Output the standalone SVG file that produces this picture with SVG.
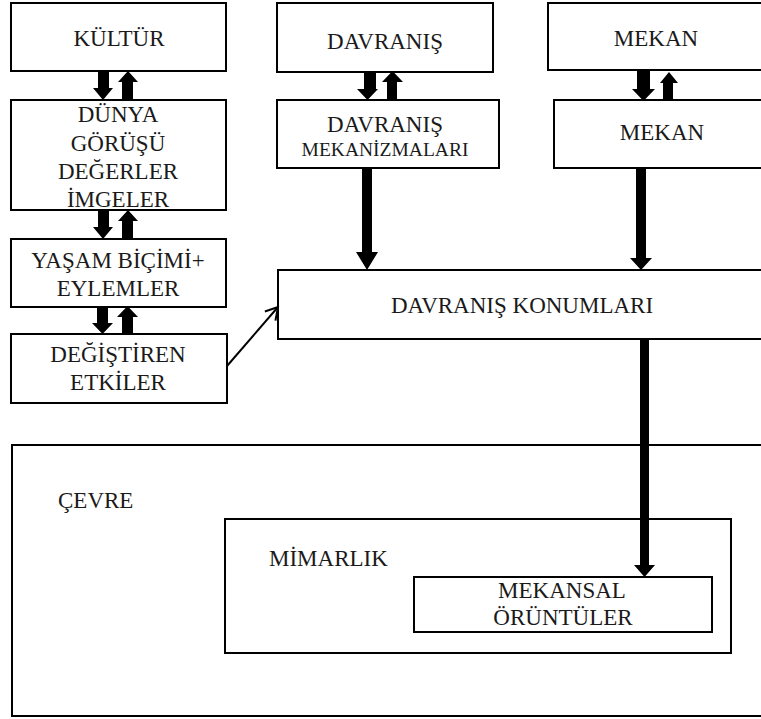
<svg xmlns="http://www.w3.org/2000/svg" width="761" height="719" viewBox="0 0 761 719">
<style>
.box{fill:#fff;stroke:#000;stroke-width:2}
text{font-family:"Liberation Serif","Times New Roman",serif;font-size:23px;fill:#1a1a1a;text-anchor:middle}
text.s{font-size:19.5px}
text.l{text-anchor:start}
.ar{fill:#000;stroke:none}
</style>
<defs>
<marker id="open" markerWidth="16" markerHeight="16" refX="14" refY="8" orient="auto" markerUnits="userSpaceOnUse">
<path d="M2,1 L14,8 L2,15" fill="none" stroke="#000" stroke-width="2"/>
</marker>
</defs>
<rect width="761" height="719" fill="#fff"/>

<g id="cevre">
<rect class="box" x="12" y="445" width="760" height="271"/>
<text class="l" x="58" y="508">ÇEVRE</text>
</g>
<g id="mimarlik">
<rect class="box" x="225" y="519" width="506" height="134"/>
<text class="l" x="269" y="566">MİMARLIK</text>
</g>
<g id="mekansal">
<rect class="box" x="414" y="577" width="298" height="55"/>
<text x="562" y="598">MEKANSAL</text>
<text x="563" y="625">ÖRÜNTÜLER</text>
</g>

<g id="kultur">
<rect class="box" x="11" y="3" width="215" height="68"/>
<text x="119" y="46">KÜLTÜR</text>
</g>
<g id="dunya">
<rect class="box" x="11" y="100" width="215" height="110"/>
<text x="118" y="122">DÜNYA</text>
<text x="118" y="151">GÖRÜŞÜ</text>
<text x="118" y="179">DEĞERLER</text>
<text x="118" y="207">İMGELER</text>
</g>
<g id="yasam">
<rect class="box" x="11" y="239" width="215" height="68"/>
<text x="118" y="268">YAŞAM BİÇİMİ+</text>
<text x="118" y="296">EYLEMLER</text>
</g>
<g id="degistiren">
<rect class="box" x="11" y="334" width="216" height="69"/>
<text x="118" y="362">DEĞİŞTİREN</text>
<text x="118" y="390">ETKİLER</text>
</g>

<g id="davranis">
<rect class="box" x="277" y="3" width="216" height="69"/>
<text x="385" y="49">DAVRANIŞ</text>
</g>
<g id="davranis-mek">
<rect class="box" x="277" y="100" width="222" height="68"/>
<text x="385" y="132">DAVRANIŞ</text>
<text class="s" x="385" y="156">MEKANİZMALARI</text>
</g>
<g id="mekan1">
<rect class="box" x="548" y="3" width="220" height="67"/>
<text x="656" y="46">MEKAN</text>
</g>
<g id="mekan2">
<rect class="box" x="554" y="100" width="214" height="68"/>
<text x="662" y="140">MEKAN</text>
</g>
<g id="konumlar">
<rect class="box" x="278" y="270" width="490" height="69"/>
<text x="522" y="313">DAVRANIŞ KONUMLARI</text>
</g>

<g id="connectors">
<path class="ar" d="M98,71 H109 V88 H113 L103,100 L93,88 H98 Z"/>
<path class="ar" d="M122,100 V82 H118 L128,71 L138,82 H133 V100 Z"/>
<path class="ar" d="M98,210 H109 V227 H113 L103,239 L93,227 H98 Z"/>
<path class="ar" d="M122,239 V221 H118 L128,210 L138,221 H133 V239 Z"/>
<path class="ar" d="M97,307 H108 V323 H113 L102.5,334 L92,323 H97 Z"/>
<path class="ar" d="M122,334 V317 H117 L127.5,306 L138,317 H133 V334 Z"/>
<path class="ar" d="M364,72 H376 V89 H378 L367.5,100 L357,89 H364 Z"/>
<path class="ar" d="M387,100 V82 H382 L392.5,71 L403,82 H397 V100 Z"/>
<path class="ar" d="M637,70 H650 V89 H655 L643.5,101 L632,89 H637 Z"/>
<path class="ar" d="M663,100 V83 H660 L669,72 L678,83 H673 V100 Z"/>
<path class="ar" d="M362,168 H372 V252 H378 L367,270 L356,252 H362 Z"/>
<path class="ar" d="M636,168 H646 V258 H652 L641,270 L630,258 H636 Z"/>
<path class="ar" d="M640,339 H649 V565 H655 L644.5,577 L634,565 H640 Z"/>
<line x1="227" y1="366" x2="278" y2="307" stroke="#000" stroke-width="2" marker-end="url(#open)"/>
</g>
</svg>
